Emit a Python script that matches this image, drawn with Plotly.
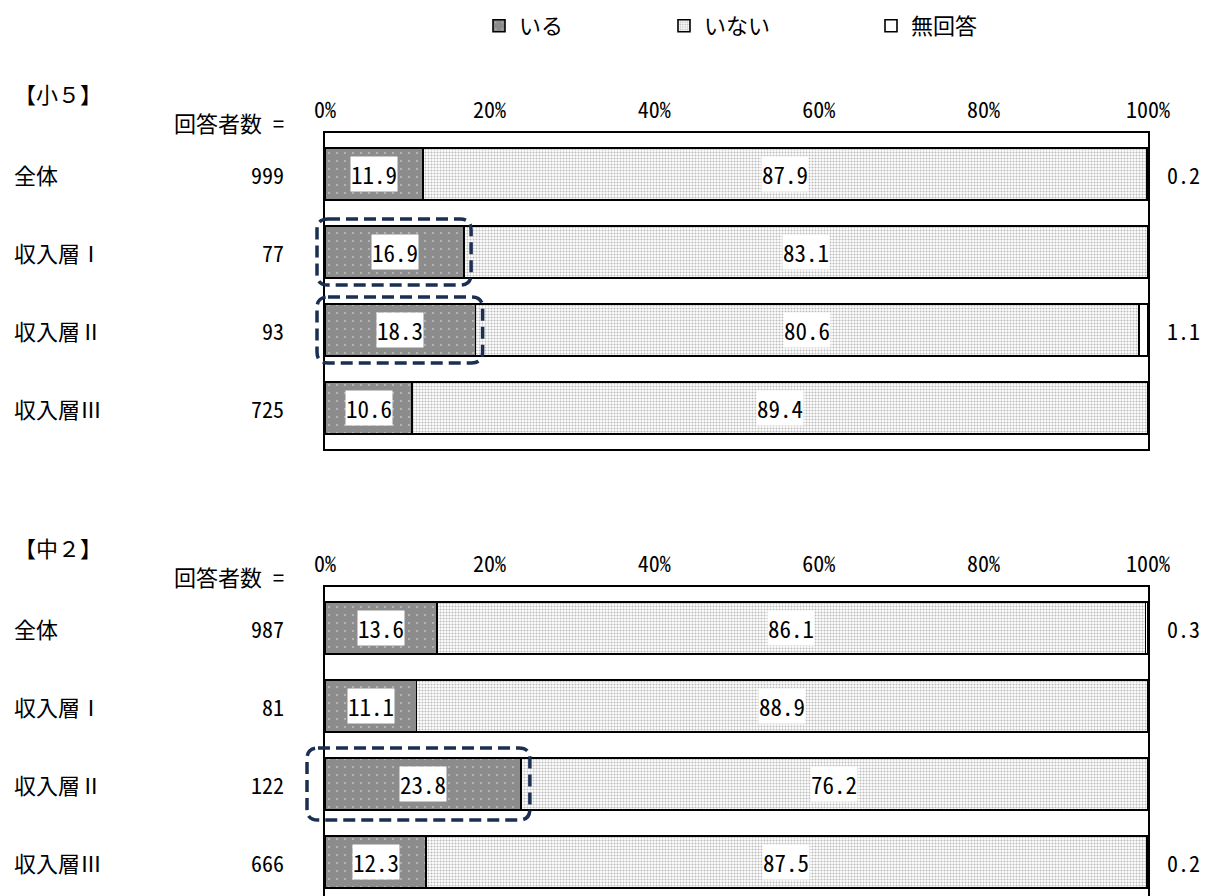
import plotly.graph_objects as go

# ---------------- data ----------------
categories = ["全体", "収入層Ⅰ", "収入層Ⅱ", "収入層Ⅲ"]
panel_titles = ["【小５】", "【中２】"]
series_names = ["いる", "いない", "無回答"]

n_sho5 = [999, 77, 93, 725]
iru_sho5 = [11.9, 16.9, 18.3, 10.6]
inai_sho5 = [87.9, 83.1, 80.6, 89.4]
mukaito_sho5 = [0.2, 0.0, 1.1, 0.0]

n_chu2 = [987, 81, 122, 666]
iru_chu2 = [13.6, 11.1, 23.8, 12.3]
inai_chu2 = [86.1, 88.9, 76.2, 87.5]
mukaito_chu2 = [0.3, 0.0, 0.0, 0.2]

tick_values = [0, 20, 40, 60, 80, 100]
tick_labels = ["0%", "20%", "40%", "60%", "80%", "100%"]

# highlighted (panel index, row index)
highlights = [(0, 1), (0, 2), (1, 2)]

# ---------------- layout geometry ----------------
W, H = 1211, 896
X0_PX, X1_PX = 325, 1148
PANEL_PX = [(133, 449), (587, 896)]
PANEL_RANGE = [(-0.526, 3.526), (-0.526, 3.436)]
HL_PAD = [dict(l=8, r=7, v=7), dict(l=8, r=7, v=7), dict(l=18, r=9, v=10)]
HL_RADIUS = 11

JP = "Noto Sans CJK JP, Noto Sans, sans-serif"
NUM = "Noto Sans Mono CJK JP, Noto Sans CJK JP, DejaVu Sans Mono, monospace"
NAVY = "#1b2f52"
FS = 22
FS_IN = 23

panels = [
    dict(n=n_sho5, iru=iru_sho5, inai=inai_sho5, mu=mukaito_sho5),
    dict(n=n_chu2, iru=iru_chu2, inai=inai_chu2, mu=mukaito_chu2),
]

fig = go.Figure()
ypos = list(range(len(categories)))
BAR_W = 0.667

patterns = [
    dict(shape=".", fgcolor="white", bgcolor="#8c8c8c", size=8, solidity=0.04),
    dict(shape=".", fgcolor="#7a7a7a", bgcolor="white", size=3, solidity=0.4),
    None,
]
legend_ids = ["legend", "legend2", "legend3"]

for p, d in enumerate(panels):
    xa = "x" if p == 0 else "x2"
    ya = "y" if p == 0 else "y2"
    vals = [d["iru"], d["inai"], d["mu"]]
    for s, name in enumerate(series_names):
        marker = dict(color="#8c8c8c" if s == 0 else "white",
                      line=dict(color="black", width=1.6))
        if patterns[s] is not None:
            marker["pattern"] = patterns[s]
        fig.add_trace(go.Bar(
            x=vals[s], y=ypos, orientation="h", name=name,
            marker=marker, width=BAR_W, xaxis=xa, yaxis=ya,
            showlegend=(p == 0), legend=legend_ids[s],
            legendgroup=name, hoverinfo="skip",
        ))

def ydom(p):
    top, bot = PANEL_PX[p]
    return [max(0.0, 1 - bot / H), 1 - top / H]

xdom = [X0_PX / W, X1_PX / W]

axis_common = dict(showline=True, linecolor="black", linewidth=2, mirror=True,
                   showgrid=False, zeroline=False, automargin=False)
xaxis_common = dict(domain=xdom, range=[0, 100], side="top",
                    tickvals=tick_values, ticktext=tick_labels, ticks="",
                    ticklabelstandoff=4,
                    tickfont=dict(family=NUM, size=FS, color="black"), **axis_common)
fig.update_layout(
    xaxis=dict(anchor="y", **xaxis_common),
    xaxis2=dict(anchor="y2", **xaxis_common),
    yaxis=dict(domain=ydom(0), range=[PANEL_RANGE[0][1], PANEL_RANGE[0][0]],
               showticklabels=False, ticks="", anchor="x", **axis_common),
    yaxis2=dict(domain=ydom(1), range=[PANEL_RANGE[1][1], PANEL_RANGE[1][0]],
                showticklabels=False, ticks="", anchor="x2", **axis_common),
    barmode="stack",
    width=W, height=H,
    margin=dict(l=0, r=0, t=0, b=0, autoexpand=False),
    plot_bgcolor="white", paper_bgcolor="white",
)

legend_x_px = [479, 664, 871]
for lid, lx in zip(legend_ids, legend_x_px):
    fig.layout[lid] = dict(x=lx / W, y=1 - 26 / H, xanchor="left", yanchor="middle",
                           orientation="h", bgcolor="rgba(0,0,0,0)", borderwidth=0,
                           font=dict(family=JP, size=FS, color="black"))

annotations = []
shapes = []

def y_px(p, yv):
    top, bot = PANEL_PX[p]
    r0, r1 = PANEL_RANGE[p]
    return top + (yv - r0) / (r1 - r0) * (bot - top)

def x_px(v):
    return X0_PX + v / 100 * (X1_PX - X0_PX)

for p, d in enumerate(panels):
    xa = "x" if p == 0 else "x2"
    ya = "y" if p == 0 else "y2"
    top, bot = PANEL_PX[p]
    annotations.append(dict(text=panel_titles[p], xref="paper", yref="paper",
                            x=12 / W, y=1 - (top - 40) / H, xanchor="left", yanchor="middle",
                            showarrow=False, font=dict(family=JP, size=FS, color="black")))
    annotations.append(dict(text="回答者数 =", xref="paper", yref="paper",
                            x=286 / W, y=1 - (top - 11) / H, xanchor="right", yanchor="middle",
                            showarrow=False, font=dict(family=NUM, size=FS, color="black")))
    for i, cat in enumerate(categories):
        yc = 1 - y_px(p, i) / H
        annotations.append(dict(text=cat, xref="paper", yref="paper", x=12 / W, y=yc,
                                xanchor="left", yanchor="middle", showarrow=False,
                                font=dict(family=JP, size=FS, color="black")))
        annotations.append(dict(text=str(d["n"][i]), xref="paper", yref="paper", x=286 / W, y=yc,
                                xanchor="right", yanchor="middle", showarrow=False,
                                font=dict(family=NUM, size=FS, color="black")))
        a, b, c = d["iru"][i], d["inai"][i], d["mu"][i]
        for val, start in ((a, 0), (b, a)):
            annotations.append(dict(text=f"{val:.1f}", xref=xa, yref=ya,
                                    x=start + val / 2, y=i, showarrow=False,
                                    bgcolor="white", borderpad=0,
                                    font=dict(family=NUM, size=FS_IN, color="black")))
        if c > 0:
            annotations.append(dict(text=f"{c:.1f}", xref="paper", yref="paper",
                                    x=1165 / W, y=yc, xanchor="left", yanchor="middle",
                                    showarrow=False,
                                    font=dict(family=NUM, size=FS, color="black")))

for (p, i), pad in zip(highlights, HL_PAD):
    d = panels[p]
    xl = X0_PX - pad["l"]
    xr = x_px(d["iru"][i]) + pad["r"]
    half = (y_px(p, i + BAR_W / 2) - y_px(p, i - BAR_W / 2)) / 2
    yc = y_px(p, i)
    yt = yc - half - pad["v"]
    yb = yc + half + pad["v"]
    R = HL_RADIUS

    def P(x, y):
        return f"{x / W:.5f},{1 - y / H:.5f}"
    path = (f"M{P(xl + R, yt)} L{P(xr - R, yt)} Q{P(xr, yt)} {P(xr, yt + R)} "
            f"L{P(xr, yb - R)} Q{P(xr, yb)} {P(xr - R, yb)} "
            f"L{P(xl + R, yb)} Q{P(xl, yb)} {P(xl, yb - R)} "
            f"L{P(xl, yt + R)} Q{P(xl, yt)} {P(xl + R, yt)} Z")
    shapes.append(dict(type="path", path=path, xref="paper", yref="paper",
                       line=dict(color=NAVY, width=3.5, dash="12px,6px"), layer="above"))

fig.update_layout(annotations=annotations, shapes=shapes)
fig.write_html("out.html", config={"displayModeBar": False},
               post_script="document.body.style.margin='0';document.body.style.padding='0';")
